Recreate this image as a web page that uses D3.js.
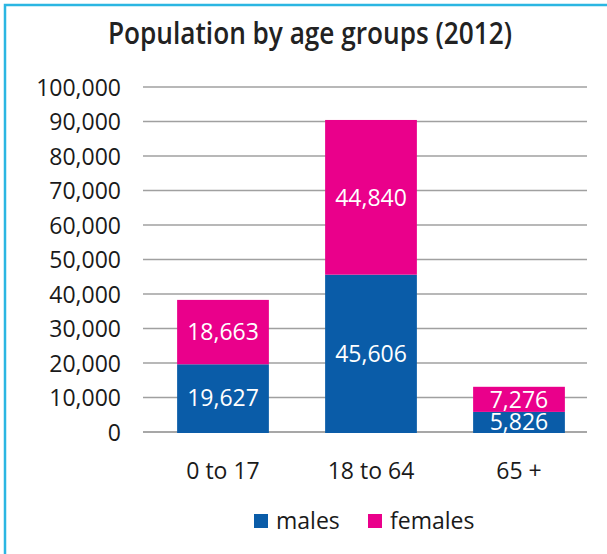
<!DOCTYPE html>
<html>
<head>
<meta charset="utf-8">
<script src="https://cdn.jsdelivr.net/npm/d3@7/dist/d3.min.js"></script>
<style>
  html, body { margin: 0; padding: 0; background: #fff; }
  svg { display: block; }
  text { font-family: "Open Sans", "Noto Sans", sans-serif; fill: #1a1a1a; }
</style>
</head>
<body>
<svg id="chart" width="607" height="554"></svg>
<script>
// Population by age group, 2012
const categories = ["0 to 17", "18 to 64", "65 +"];
const males = [19627, 45606, 5826];
const females = [18663, 44840, 7276];
const seriesNames = ["males", "females"];
const seriesColors = ["#0a5ca8", "#ea008b"];
const yTicks = [0, 10000, 20000, 30000, 40000, 50000, 60000, 70000, 80000, 90000, 100000];

const W = 607, H = 554;
const svg = d3.select("#chart");

// frame
svg.append("path")
  .attr("d", `M5,${H} L5,5 L${W},5`)
  .attr("fill", "none")
  .attr("stroke", "#2bb6e2")
  .attr("stroke-width", 2.5);

// title, set in a condensed semibold face
svg.append("text")
  .attr("x", 108).attr("y", 32)
  .attr("dominant-baseline", "central")
  .attr("textLength", 404)
  .attr("lengthAdjust", "spacingAndGlyphs")
  .style("font-weight", "600")
  .style("font-size", "30px")
  .style("fill", "#222")
  .text("Population by age groups (2012)");

const x = d3.scaleBand().domain(categories).range([149, 593])
  .paddingInner(0.38).paddingOuter(0.19);
const y = d3.scaleLinear().domain([0, 100000]).range([432, 87]);

const fmt = d3.format(",");

// grid lines
svg.append("g").selectAll("line").data(yTicks).join("line")
  .attr("x1", 143).attr("x2", 587)
  .attr("y1", d => y(d)).attr("y2", d => y(d))
  .attr("stroke", d => d === 0 ? "#8a8a8a" : "#a0a0a0")
  .attr("stroke-width", 1.5);

// y axis labels
const yAxis = d3.axisLeft(y).tickValues(yTicks).tickFormat(fmt).tickSize(0).tickPadding(0);
const gy = svg.append("g").attr("transform", "translate(121,0)").call(yAxis);
gy.select(".domain").remove();
gy.selectAll("text").style("font-size", "23px").attr("fill", "#1a1a1a").attr("dy", "0.36em");

// stacked bars
const rows = categories.map((c, i) => ({ cat: c, males: males[i], females: females[i] }));
const stack = d3.stack().keys(seriesNames)(rows);

const layers = svg.append("g").selectAll("g").data(stack).join("g")
  .attr("fill", (d, i) => seriesColors[i]);

layers.selectAll("rect").data(d => d).join("rect")
  .attr("x", d => x(d.data.cat))
  .attr("width", x.bandwidth())
  .attr("y", d => y(d[1]))
  .attr("height", d => y(d[0]) - y(d[1]) + (d[0] === 0 ? 1 : 0));

// value labels
layers.selectAll("text").data(d => d.map(v => ({ v, key: d.key }))).join("text")
  .attr("x", d => x(d.v.data.cat) + x.bandwidth() / 2)
  .attr("y", d => (y(d.v[0]) + y(d.v[1])) / 2)
  .attr("dy", "0.36em")
  .attr("text-anchor", "middle")
  .style("font-size", "23px")
  .style("fill", "#fff")
  .text(d => fmt(d.v.data[d.key]));

// x axis labels
const xAxis = d3.axisBottom(x).tickSize(0).tickPadding(0);
const gx = svg.append("g").attr("transform", "translate(0,471)").call(xAxis);
gx.select(".domain").remove();
gx.selectAll("text").style("font-size", "23px").attr("fill", "#1a1a1a").attr("dy", "0.36em");

// legend
const legendX = [254, 368];
const lg = svg.append("g").selectAll("g").data(seriesNames).join("g")
  .attr("transform", (d, i) => `translate(${legendX[i]},514)`);
lg.append("rect").attr("width", 14).attr("height", 14)
  .attr("fill", (d, i) => seriesColors[i]);
lg.append("text").attr("x", 22).attr("y", 7).attr("dy", "0.36em")
  .style("font-size", "23px").text(d => d);
</script>
</body>
</html>
